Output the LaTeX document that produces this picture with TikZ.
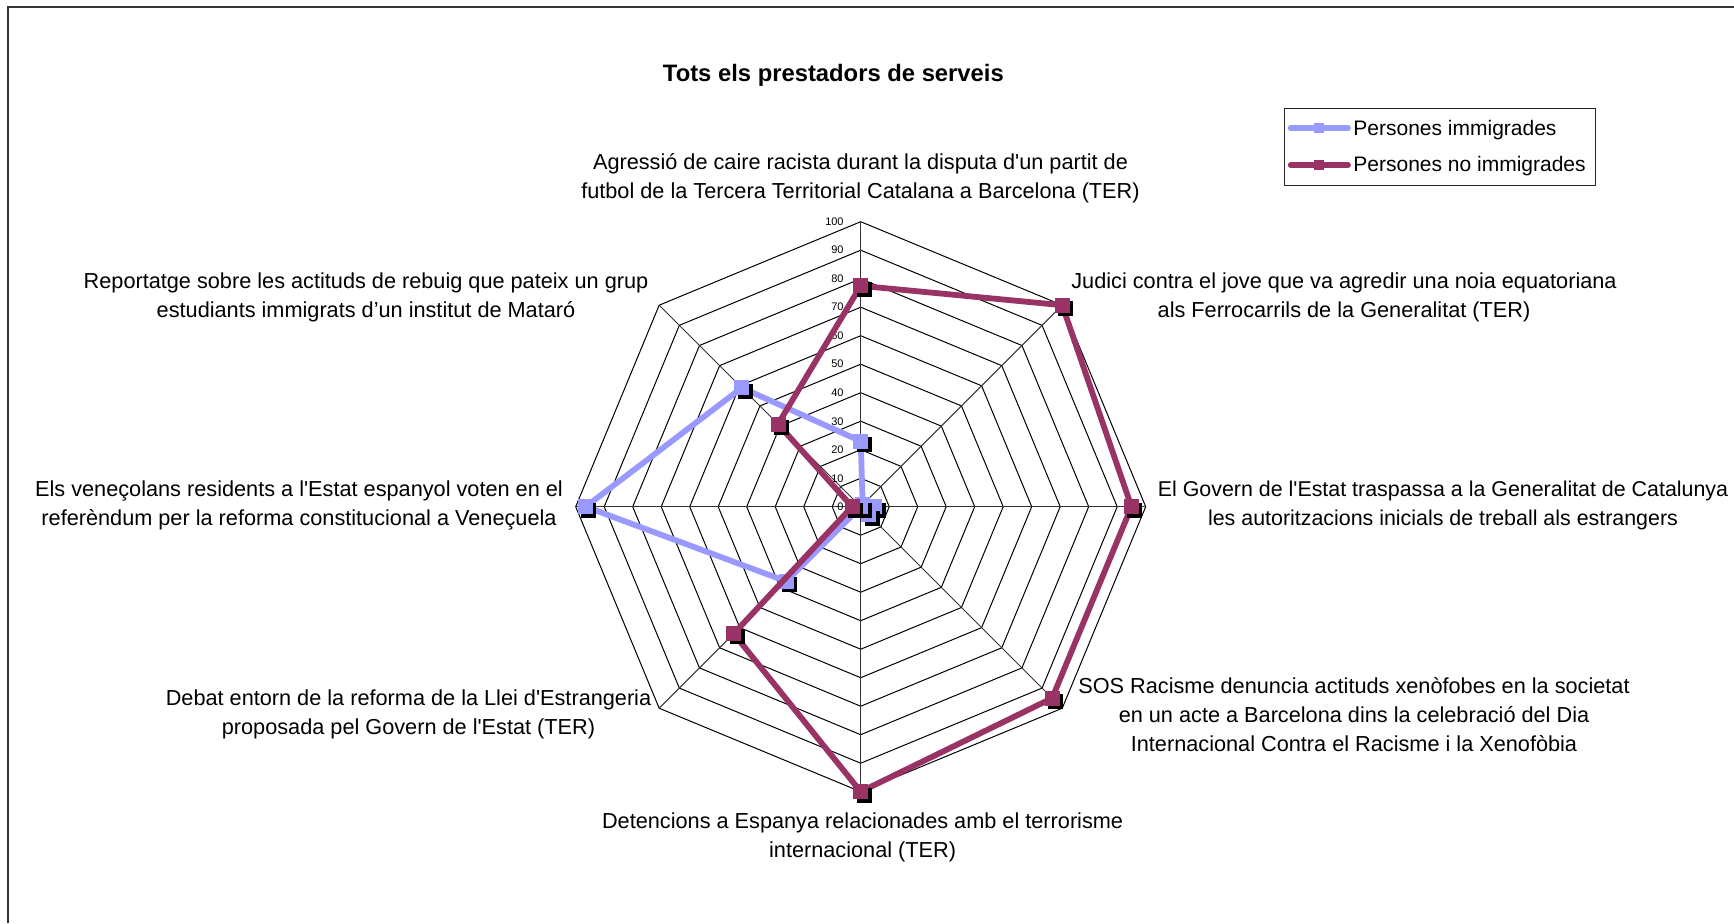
\documentclass[tikz,border=0pt]{standalone}
\usepackage{fontspec}
\setmainfont{Liberation Sans}[Ligatures=TeXOff]
\definecolor{serblue}{HTML}{9999FF}
\definecolor{serred}{HTML}{993366}
\begin{document}
\begin{tikzpicture}[x=0.5pt,y=-0.5pt,
  gridline/.style={draw=black,line width=0.5pt},
  spoke/.style={draw=black!80,line width=0.5pt},
  series/.style={line width=2.9pt,line join=round},
  mk/.style={rectangle,minimum size=7.5pt,inner sep=0pt,draw=none},
  mkshadow/.style={mk,fill=black},
  lab/.style={align=center,font=\fontsize{10.85}{14.5}\selectfont,inner sep=0pt},
  scl/.style={anchor=east,inner sep=0pt,font=\fontsize{5.5}{6}\selectfont},
  legtext/.style={anchor=base west,inner sep=0pt,font=\fontsize{10.5}{12}\selectfont},
]
\useasboundingbox (0,0) rectangle (1734,923);
\fill[white] (0,0) rectangle (1734,923);
% frame
\coordinate (frA) at (8.3,923);
\coordinate (frB) at (8.3,6.7);
\coordinate (frC) at (1734,6.7);
\draw[line width=1pt,draw=black!80] (frA) -- (frB) -- (frC);
% title
\node[anchor=base,inner sep=0pt,font=\fontsize{11.9}{14}\selectfont\bfseries] (title) at (833.4,81.7) {Tots els prestadors de serveis};
% grid
\coordinate (C) at (860.7,506.7);
\foreach \l in {1,...,10}{
  \draw[gridline] (860.7,{506.7-28.5*\l}) \foreach \k in {1,...,7}{ -- ({860.7+28.5*\l*sin(45*\k)},{506.7-28.5*\l*cos(45*\k)}) } -- cycle;
}
\foreach \k in {0,...,7}{
  \coordinate (ax\k) at ({860.7+285*sin(45*\k)},{506.7-285*cos(45*\k)});
  \draw[spoke] (C) -- (ax\k);
}
% scale labels
\foreach \l [evaluate=\l as \t using int(10*\l)] in {0,...,10}{
  \node[scl] (sl\l) at (844,{506.7-28.5*\l}) {\t};
}
% category labels
\node[lab] (c0) at (860.5,178) {Agressió de caire racista durant la disputa d'un partit de\\futbol de la Tercera Territorial Catalana a Barcelona (TER)};
\node[lab] (c1) at (1344,297) {Judici contra el jove que va agredir una noia equatoriana\\als Ferrocarrils de la Generalitat (TER)};
\node[lab,font=\fontsize{10.7}{14.5}\selectfont] (c2) at (1443,505.5) {El Govern de l'Estat traspassa a la Generalitat de Catalunya\\les autoritzacions inicials de treball als estrangers};
\node[lab] (c3) at (1354,715) {SOS Racisme denuncia actituds xenòfobes en la societat\\en un acte a Barcelona dins la celebració del Dia\\Internacional Contra el Racisme i la Xenofòbia};
\node[lab] (c4) at (862.6,837.5) {Detencions a Espanya relacionades amb el terrorisme\\internacional (TER)};
\node[lab] (c5) at (408.5,714.5) {Debat entorn de la reforma de la Llei d'Estrangeria\\proposada pel Govern de l'Estat (TER)};
\node[lab] (c6) at (299,505.5) {Els veneçolans residents a l'Estat espanyol voten en el\\referèndum per la reforma constitucional a Veneçuela};
\node[lab] (c7) at (366,297) {Reportatge sobre les actituds de rebuig que pateix un grup\\estudiants immigrats d’un institut de Mataró};
% series: Persones immigrades
\foreach \v [count=\k from 0] in {23,1,5,4,0,37,96.5,59}{
  \coordinate (b\k) at ({860.7+2.85*\v*sin(45*\k)},{506.7-2.85*\v*cos(45*\k)});
}
\draw[series,draw=serblue] (b0) -- (b1) -- (b2) -- (b3) -- (b4) -- (b5) -- (b6) -- (b7) -- cycle;
\foreach \k in {0,...,7}{
  \node[mkshadow] (bs\k) at ([shift={(3.3,3.3)}]b\k) {};
  \node[mk,fill=serblue] (bm\k) at (b\k) {};
}
% series: Persones no immigrades
\foreach \v [count=\k from 0] in {77.5,100,95,95,100,63,3,41}{
  \coordinate (r\k) at ({860.7+2.85*\v*sin(45*\k)},{506.7-2.85*\v*cos(45*\k)});
}
\draw[series,draw=serred] (r0) -- (r1) -- (r2) -- (r3) -- (r4) -- (r5) -- (r6) -- (r7) -- cycle;
\foreach \k in {0,...,7}{
  \node[mkshadow] (rs\k) at ([shift={(3.3,3.3)}]r\k) {};
  \node[mk,fill=serred] (rm\k) at (r\k) {};
}
% legend
\node[draw=black!85,line width=0.5pt,minimum width=155.5pt,minimum height=38.4pt,inner sep=0pt] (legend) at (1439.5,146.7) {};
\coordinate (l1a) at (1290.7,128.3);
\coordinate (l1b) at (1348,128.3);
\draw[series,line cap=round,draw=serblue] (l1a) -- (l1b);
\node[mk,minimum size=5pt,fill=serblue] (l1m) at (1319,128.3) {};
\node[legtext] (l1t) at (1353,135) {Persones immigrades};
\coordinate (l2a) at (1290.7,165);
\coordinate (l2b) at (1348,165);
\draw[series,line cap=round,draw=serred] (l2a) -- (l2b);
\node[mk,minimum size=5pt,fill=serred] (l2m) at (1319,165) {};
\node[legtext] (l2t) at (1353,171.7) {Persones no immigrades};
\end{tikzpicture}
\end{document}
